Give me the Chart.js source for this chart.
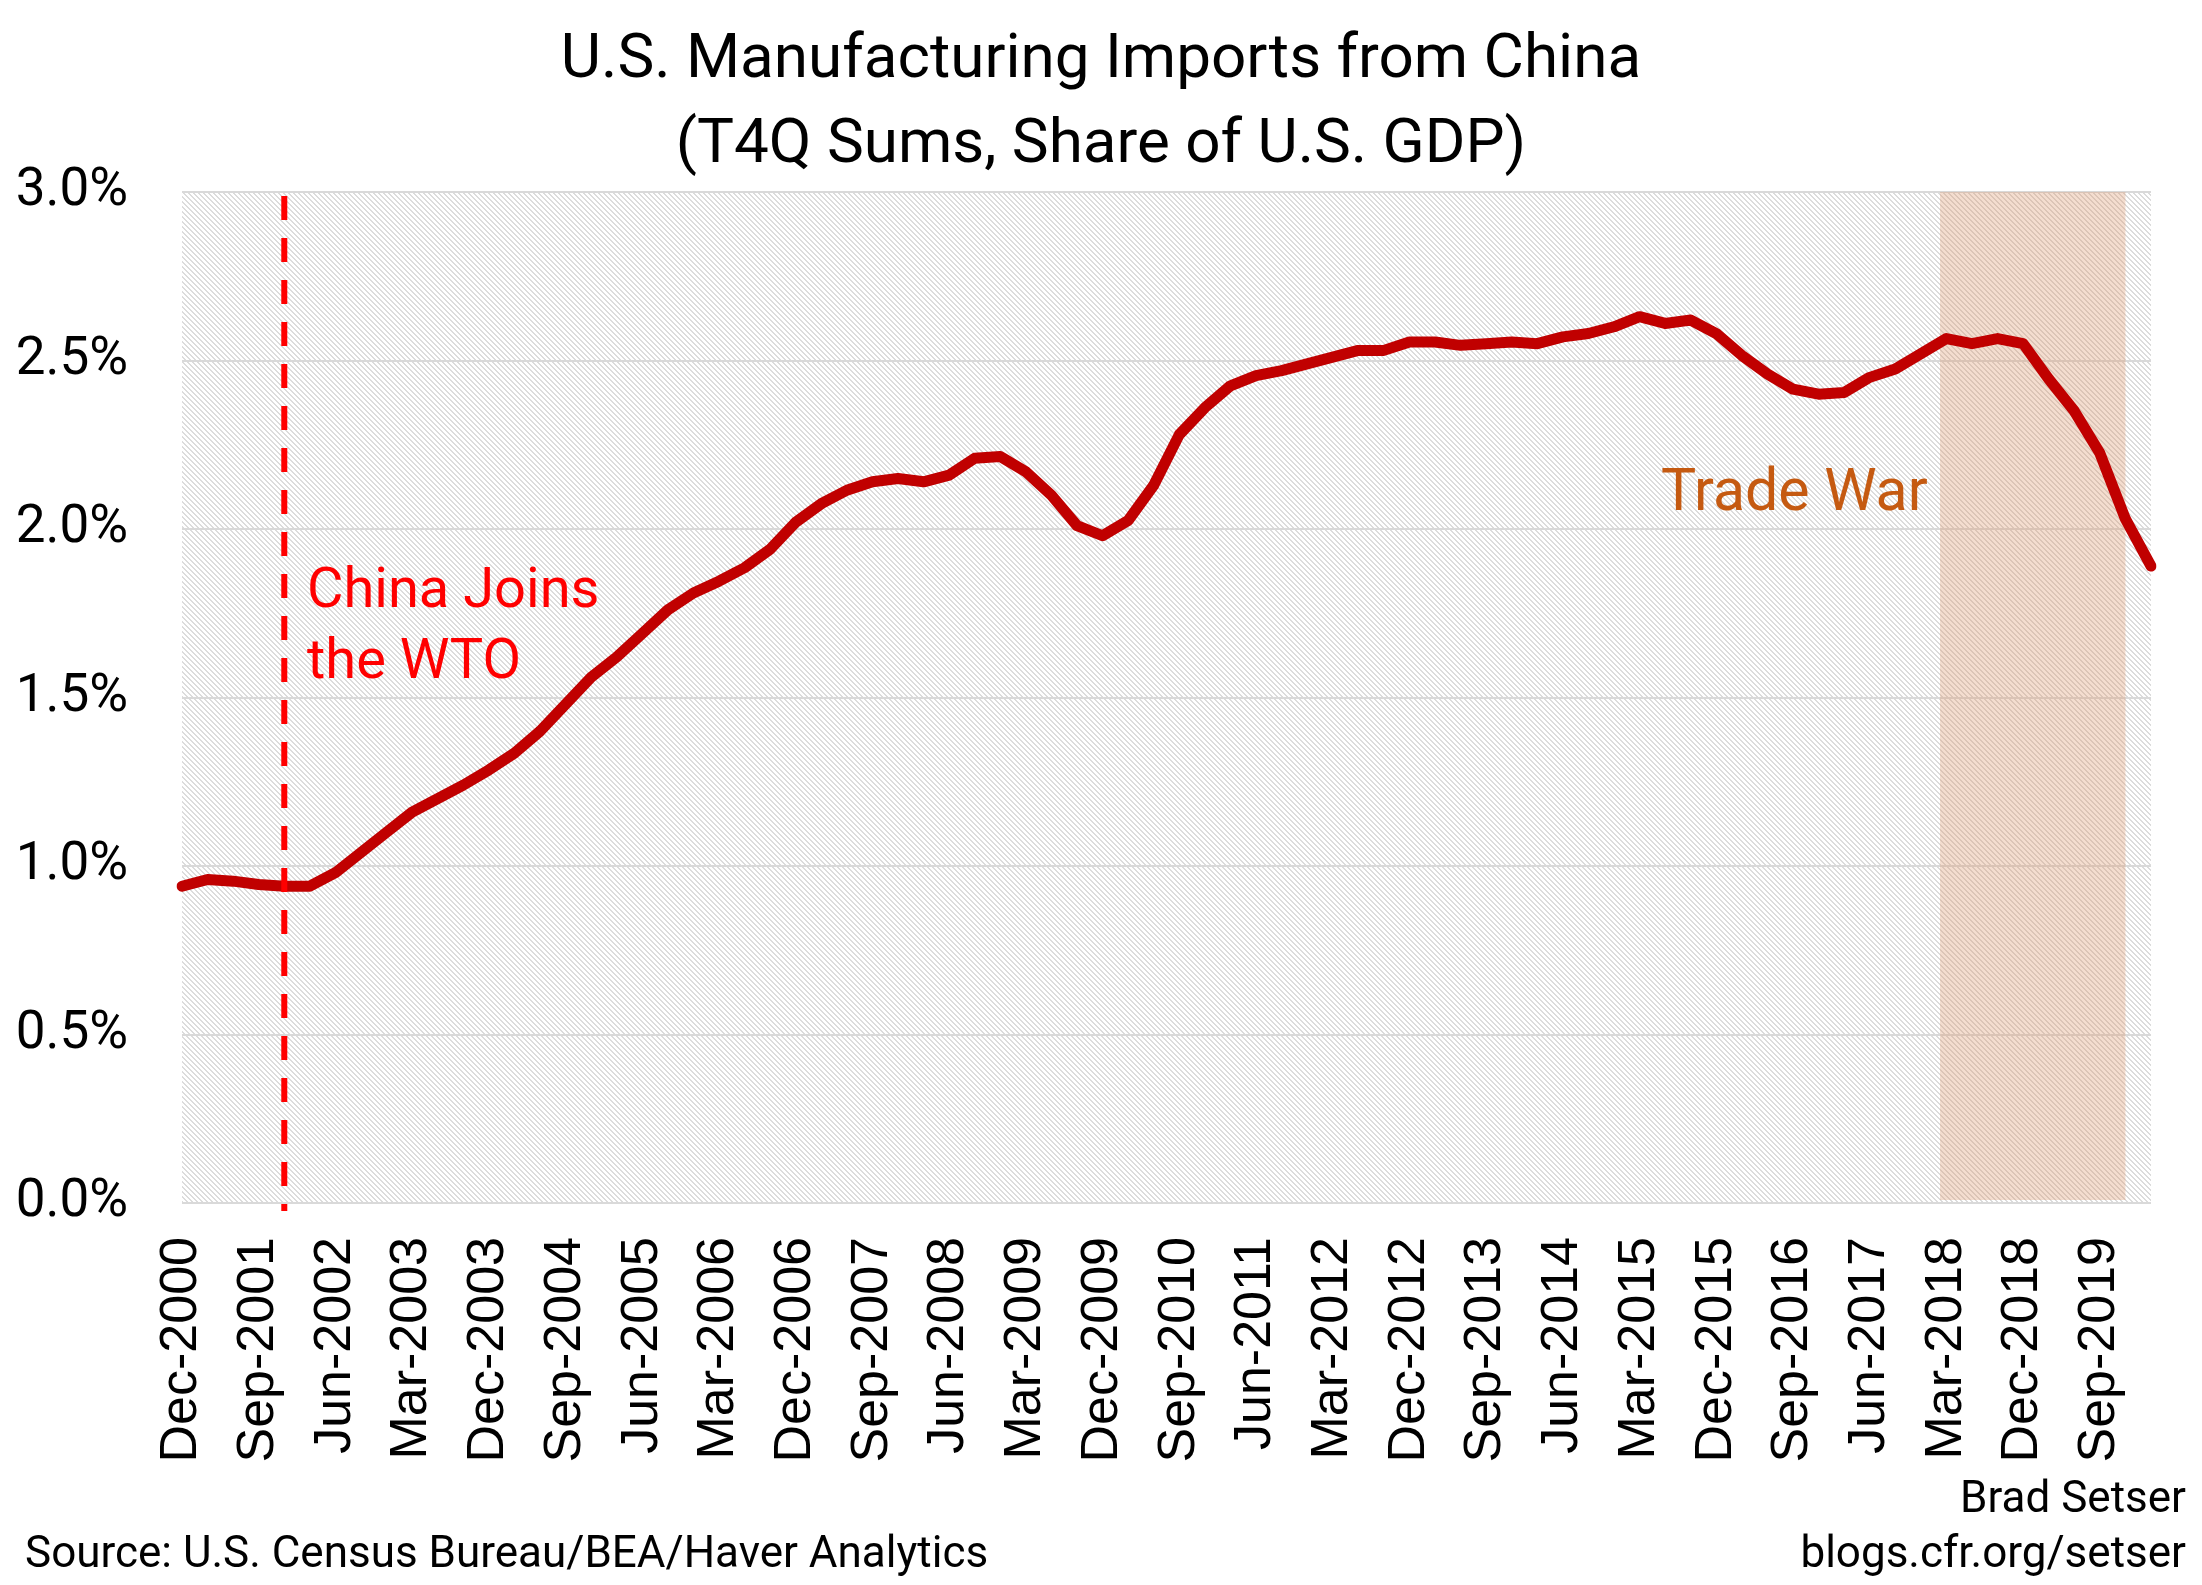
<!DOCTYPE html>
<html>
<head>
<meta charset="utf-8">
<script src="https://cdn.jsdelivr.net/npm/chart.js@4.4.1/dist/chart.umd.min.js"></script>
<style>
  html, body { margin: 0; padding: 0; background: #ffffff; }
  #wrap { width: 2202px; height: 1585px; position: relative; }
</style>
</head>
<body>
<div id="wrap"><canvas id="chart" width="2202" height="1585"></canvas></div>
<script>
// ---------------- DATA ----------------
const categories = [
  'Dec-2000',
  'Mar-2001','Jun-2001','Sep-2001','Dec-2001',
  'Mar-2002','Jun-2002','Sep-2002','Dec-2002',
  'Mar-2003','Jun-2003','Sep-2003','Dec-2003',
  'Mar-2004','Jun-2004','Sep-2004','Dec-2004',
  'Mar-2005','Jun-2005','Sep-2005','Dec-2005',
  'Mar-2006','Jun-2006','Sep-2006','Dec-2006',
  'Mar-2007','Jun-2007','Sep-2007','Dec-2007',
  'Mar-2008','Jun-2008','Sep-2008','Dec-2008',
  'Mar-2009','Jun-2009','Sep-2009','Dec-2009',
  'Mar-2010','Jun-2010','Sep-2010','Dec-2010',
  'Mar-2011','Jun-2011','Sep-2011','Dec-2011',
  'Mar-2012','Jun-2012','Sep-2012','Dec-2012',
  'Mar-2013','Jun-2013','Sep-2013','Dec-2013',
  'Mar-2014','Jun-2014','Sep-2014','Dec-2014',
  'Mar-2015','Jun-2015','Sep-2015','Dec-2015',
  'Mar-2016','Jun-2016','Sep-2016','Dec-2016',
  'Mar-2017','Jun-2017','Sep-2017','Dec-2017',
  'Mar-2018','Jun-2018','Sep-2018','Dec-2018',
  'Mar-2019','Jun-2019','Sep-2019','Dec-2019',
  'Mar-2020'
];

// Manufacturing imports from China, trailing-4-quarter sum, % of U.S. GDP
const importShare = [
  0.94,
  0.96, 0.955, 0.945, 0.94,
  0.94, 0.98, 1.04, 1.10,
  1.16, 1.20, 1.24, 1.285,
  1.335, 1.40, 1.48, 1.56,
  1.62, 1.69, 1.76, 1.81,
  1.845, 1.885, 1.94, 2.02,
  2.075, 2.115, 2.14, 2.15,
  2.14, 2.16, 2.21, 2.215,
  2.17, 2.10, 2.01, 1.98,
  2.025, 2.13, 2.28, 2.36,
  2.425, 2.455, 2.47, 2.49,
  2.51, 2.53, 2.53, 2.555,
  2.555, 2.545, 2.55, 2.555,
  2.55, 2.57, 2.58, 2.60,
  2.63, 2.61, 2.62, 2.58,
  2.515, 2.46, 2.415, 2.40,
  2.405, 2.45, 2.475, 2.52,
  2.565, 2.55, 2.565, 2.55,
  2.445, 2.35, 2.225, 2.03,
  1.89
];

const yTickValues = [0, 0.5, 1.0, 1.5, 2.0, 2.5, 3.0];
const xLabelEvery = 3;                 // a label every third quarter
const wtoEvent = 'Dec-2001';           // China joins the WTO
const tradeWarStart = 'Mar-2018';
const tradeWarEnd = 'Dec-2019';

const titleLines = ['U.S. Manufacturing Imports from China', '(T4Q Sums, Share of U.S. GDP)'];
const wtoLabel = ['China Joins', 'the WTO'];
const tradeWarLabel = 'Trade War';
const sourceText = 'Source: U.S. Census Bureau/BEA/Haver Analytics';
const creditLines = ['Brad Setser', 'blogs.cfr.org/setser'];

// ---------------- STYLE ----------------
const SANS = 'Roboto, "Liberation Sans", Arial, sans-serif';
const AXIS_X_FONT = '"Liberation Sans", Arial, sans-serif';

function makeHatch() {
  const n = 5;
  const t = document.createElement('canvas');
  t.width = n; t.height = n;
  const c = t.getContext('2d');
  c.fillStyle = '#ffffff';
  c.fillRect(0, 0, n, n);
  c.fillStyle = '#dcdcdc';
  for (let i = 0; i < n; i++) {
    c.fillRect(i, i, 1, 1);
    c.fillRect((i + 1) % n, i, 1, 1);
  }
  return c.createPattern(t, 'repeat');
}

const backgroundPlugin = {
  id: 'hatchBackground',
  beforeDraw(chart) {
    const { ctx, chartArea: a } = chart;
    ctx.save();
    ctx.fillStyle = makeHatch();
    ctx.fillRect(a.left, a.top, a.right - a.left, a.bottom - a.top);
    ctx.restore();
  }
};

const shadePlugin = {
  id: 'tradeWarShade',
  beforeDatasetsDraw(chart) {
    const { ctx, chartArea: a, scales: { x } } = chart;
    const i0 = categories.indexOf(tradeWarStart);
    const i1 = categories.indexOf(tradeWarEnd);
    const x0 = x.getPixelForValue(i0 - 0.25);
    const x1 = x.getPixelForValue(i1);
    ctx.save();
    ctx.fillStyle = 'rgba(222, 150, 105, 0.32)';
    ctx.fillRect(x0, a.top, x1 - x0, a.bottom - a.top - 3);
    ctx.restore();
  }
};

const overlayPlugin = {
  id: 'overlay',
  afterDatasetsDraw(chart) {
    const { ctx, chartArea: a, scales: { x } } = chart;
    const xi = x.getPixelForValue(categories.indexOf(wtoEvent));
    ctx.save();
    ctx.strokeStyle = '#ff0000';
    ctx.lineWidth = 6;
    ctx.setLineDash([24, 18]);
    ctx.beginPath();
    ctx.moveTo(xi, a.top + 4);
    ctx.lineTo(xi, a.bottom + 8);
    ctx.stroke();
    ctx.restore();
  },
  afterDraw(chart) {
    const { ctx, width: W } = chart;
    ctx.save();
    ctx.textBaseline = 'alphabetic';
    // title
    ctx.fillStyle = '#000000';
    ctx.textAlign = 'center';
    ctx.font = '400 62px ' + SANS;
    ctx.fillText(titleLines[0], W / 2, 77);
    ctx.fillText(titleLines[1], W / 2, 162);
    // WTO annotation
    ctx.textAlign = 'left';
    ctx.fillStyle = '#ff0000';
    ctx.font = '400 56px ' + SANS;
    ctx.fillText(wtoLabel[0], 307, 607);
    ctx.fillText(wtoLabel[1], 307, 678);
    // trade war annotation
    ctx.fillStyle = '#c55a11';
    ctx.font = '400 59px ' + SANS;
    ctx.fillText(tradeWarLabel, 1661, 510);
    // source & credit
    ctx.fillStyle = '#000000';
    ctx.font = '400 44px ' + SANS;
    ctx.fillText(sourceText, 25, 1567);
    ctx.textAlign = 'right';
    ctx.fillText(creditLines[0], 2186, 1512);
    ctx.fillText(creditLines[1], 2186, 1567);
    ctx.restore();
  }
};

new Chart(document.getElementById('chart'), {
  type: 'line',
  data: {
    labels: categories,
    datasets: [{
      label: 'Imports from China (% of GDP)',
      data: importShare,
      borderColor: '#c00000',
      borderWidth: 11,
      borderCapStyle: 'round',
      borderJoinStyle: 'round',
      pointRadius: 0,
      pointHoverRadius: 0,
      tension: 0,
      fill: false
    }]
  },
  options: {
    responsive: false,
    animation: false,
    devicePixelRatio: 1,
    layout: { padding: { top: 192, right: 51, left: 0, bottom: 0 } },
    plugins: {
      legend: { display: false },
      title: { display: false },
      tooltip: { enabled: false }
    },
    scales: {
      x: {
        type: 'category',
        offset: false,
        grid: { display: false, drawTicks: false },
        border: { display: false },
        afterFit(scale) {
          scale.height = 382;
          scale.paddingLeft = 0;
          scale.paddingRight = 0;
        },
        ticks: {
          autoSkip: false,
          minRotation: 90,
          maxRotation: 90,
          padding: 34,
          color: '#000000',
          font: { family: AXIS_X_FONT, size: 52 },
          callback(value, index) {
            return index % xLabelEvery === 0 ? categories[index] : '';
          }
        }
      },
      y: {
        min: yTickValues[0],
        max: yTickValues[yTickValues.length - 1],
        afterFit(scale) { scale.width = 182; },
        afterBuildTicks(scale) { scale.ticks = yTickValues.map(v => ({ value: v })); },
        grid: { color: '#d9d9d9', lineWidth: 2, drawTicks: false },
        border: { display: false },
        ticks: {
          padding: 54,
          color: '#000000',
          font: { family: SANS, size: 53 },
          callback(value) { return value.toFixed(1) + '%'; }
        }
      }
    }
  },
  plugins: [backgroundPlugin, shadePlugin, overlayPlugin]
});
</script>
</body>
</html>
